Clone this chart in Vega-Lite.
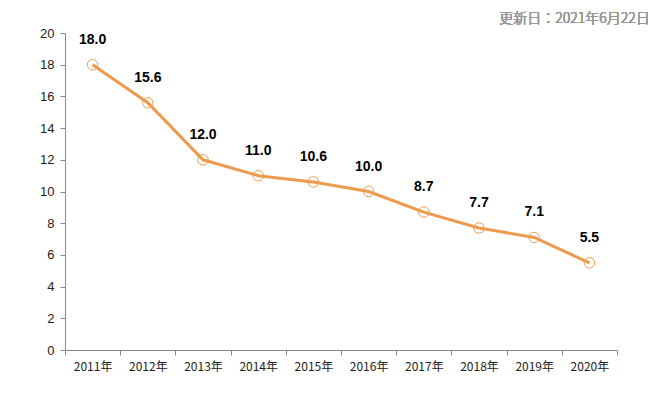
{
  "$schema": "https://vega.github.io/schema/vega-lite/v6.json",
  "autosize": "none",
  "width": 552,
  "height": 317,
  "padding": {"left": 65, "top": 33, "right": 54, "bottom": 43},
  "background": "white",
  "config": {"view": {"stroke": null}, "font": "Noto Sans CJK JP"},
  "data": {"values": [
    {"year": "2011年", "value": 18.0},
    {"year": "2012年", "value": 15.6},
    {"year": "2013年", "value": 12.0},
    {"year": "2014年", "value": 11.0},
    {"year": "2015年", "value": 10.6},
    {"year": "2016年", "value": 10.0},
    {"year": "2017年", "value": 8.7},
    {"year": "2018年", "value": 7.7},
    {"year": "2019年", "value": 7.1},
    {"year": "2020年", "value": 5.5}
  ]},
  "encoding": {
    "x": {"field": "year", "type": "ordinal", "title": null, "sort": null,
      "scale": {"paddingInner": 0, "paddingOuter": 0},
      "axis": {"labelAngle": 0, "labelFontSize": 12, "labelColor": "#222", "labelFont": "Noto Sans CJK JP", "labelFontWeight": "normal", "domainColor": "#888", "tickColor": "#888", "tickBand": "extent", "tickSize": 5, "labelPadding": 6, "grid": false}},
    "y": {"field": "value", "type": "quantitative", "title": null,
      "scale": {"domain": [0, 20]},
      "axis": {"values": [0,2,4,6,8,10,12,14,16,18,20], "labelFontSize": 13, "labelColor": "#222", "labelFont": "Liberation Sans", "domainColor": "#888", "tickColor": "#888", "tickSize": 5, "labelPadding": 6, "grid": false}}
  },
  "layer": [
    {"mark": {"type": "line", "color": "#EE9A4D", "strokeWidth": 3}},
    {"mark": {"type": "point", "shape": "circle", "size": 110, "filled": false, "color": "#EE9A4D", "strokeWidth": 1, "fill": "white", "fillOpacity": 0}},
    {"mark": {"type": "text", "dy": -25, "fontSize": 14, "fontWeight": "bold", "font": "Liberation Sans", "color": "#000"},
      "encoding": {"text": {"field": "value", "type": "quantitative", "format": ".1f"}}},
    {"mark": {"type": "text", "align": "right", "baseline": "middle", "fontSize": 14, "fontWeight": 300, "color": "#999", "font": "Noto Sans CJK JP"},
      "encoding": {"x": {"datum": "2020年"}, "y": {"datum": 20}, "text": {"value": "更新日：2021年6月22日"}, "xOffset": {"value": 88}, "yOffset": {"value": -14}}}
  ]
}
